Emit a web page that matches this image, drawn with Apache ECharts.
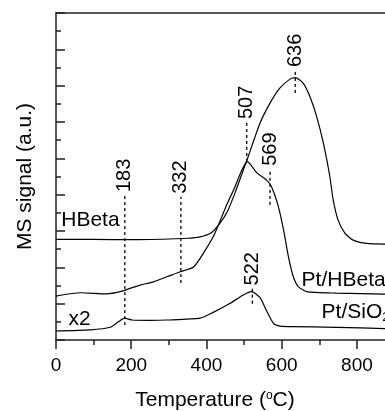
<!DOCTYPE html>
<html>
<head>
<meta charset="utf-8">
<script src="https://cdn.jsdelivr.net/npm/echarts@6/dist/echarts.min.js"></script>
<style>
  html, body { margin: 0; padding: 0; background: #fff; }
  #chart { width: 385px; height: 411px; }
</style>
</head>
<body>
<div id="chart"></div>
<script>
// TPD profiles (temperature in degC, signal in a.u.)
const hbetaT = [0, 100, 200, 300, 350, 383, 410, 432, 454, 476, 498, 511, 542, 569, 595, 622, 636, 657, 675, 693, 711, 728, 737, 750, 768, 790, 826, 880]
const hbetaY = [2.77, 2.77, 2.76, 2.78, 2.80, 2.84, 2.93, 3.16, 3.50, 4.05, 4.68, 5.05, 5.96, 6.52, 6.93, 7.18, 7.22, 7.07, 6.70, 6.15, 5.41, 4.50, 3.85, 3.30, 2.94, 2.75, 2.66, 2.64]

const ptHbetaT = [0, 65, 135, 171, 197, 224, 259, 295, 330, 365, 392, 418, 432, 454, 476, 495, 509, 534, 560, 573, 590, 605, 618, 631, 644, 667, 746, 880]
const ptHbetaY = [1.21, 1.30, 1.27, 1.33, 1.42, 1.51, 1.60, 1.74, 1.88, 2.00, 2.39, 2.84, 3.17, 3.72, 4.22, 4.70, 4.91, 4.60, 4.40, 4.22, 3.72, 3.03, 2.29, 1.74, 1.47, 1.33, 1.29, 1.26]

const ptSio2T = [0, 91, 144, 166, 182, 202, 250, 295, 383, 418, 463, 498, 520, 542, 560, 578, 596, 622, 746, 880]
const ptSio2Y = [0.25, 0.28, 0.35, 0.50, 0.60, 0.55, 0.54, 0.55, 0.60, 0.76, 1.01, 1.24, 1.33, 1.17, 0.80, 0.46, 0.38, 0.37, 0.35, 0.31]

// peak markers: temperature, bottom and top of the dotted guide
const markerT = [183, 332, 507, 569, 636, 522]
const markerLow = [0.41, 1.57, 4.90, 3.72, 6.80, 1.00]
const markerHigh = [3.99, 3.94, 6.00, 4.71, 7.43, 1.42]

const FONT = 'Liberation Sans, Arial, sans-serif'
const toPairs = (xs, ys) => xs.map((x, i) => [x, ys[i]])

const curve = (name, xs, ys, label, coord) => ({
  name: name,
  type: 'line',
  data: toPairs(xs, ys),
  smooth: 0.2,
  showSymbol: false,
  silent: true,
  lineStyle: { color: '#000', width: 1.2 },
  markPoint: {
    symbol: 'circle',
    symbolSize: 0,
    silent: true,
    data: [{ coord: coord }],
    label: {
      show: true,
      formatter: label,
      position: 'right',
      distance: 0,
      color: '#000',
      fontFamily: FONT,
      fontSize: 21,
      rich: {
        sub: { fontSize: 13, fontFamily: FONT, color: '#000', padding: [10, 0, 0, 0] }
      }
    }
  }
})

const markerSeries = markerT.map((t, i) => ({
  type: 'line',
  data: [
    [t, markerLow[i]],
    {
      value: [t, markerHigh[i]],
      label: {
        show: true,
        formatter: String(t),
        position: 'top',
        distance: 3,
        rotate: 90,
        align: 'left',
        verticalAlign: 'middle',
        color: '#000',
        fontFamily: FONT,
        fontSize: 20
      }
    }
  ],
  symbol: 'circle',
  symbolSize: 0,
  silent: true,
  lineStyle: { color: '#000', width: 1.3, type: [3, 3] }
}))

const chart = echarts.init(document.getElementById('chart'), null, { renderer: 'canvas' })

const option = {
  animation: false,
  backgroundColor: '#fff',
  grid: { left: 56, top: 13, width: 331, height: 327, containLabel: false, outerBoundsMode: 'none' },
  xAxis: [
    {
      type: 'value',
      min: 0,
      max: 880,
      interval: 200,
      name: 'Temperature ({sup|o}C)',
      nameLocation: 'middle',
      nameGap: 50,
      nameTextStyle: {
        fontFamily: FONT,
        fontSize: 21,
        color: '#000',
        padding: [0, 13, 0, 0],
        rich: {
          sup: { fontSize: 12, fontFamily: FONT, color: '#000', padding: [0, 0, 9, 0] }
        }
      },
      axisLine: { lineStyle: { color: '#222', width: 1.5 } },
      axisTick: { inside: false, length: 9, lineStyle: { color: '#222', width: 1.5 } },
      minorTick: { show: true, splitNumber: 2, length: 5, lineStyle: { color: '#222', width: 1.5 } },
      axisLabel: {
        fontFamily: FONT, fontSize: 19, color: '#000', margin: 16,
        formatter: v => (v % 200 === 0 ? String(v) : '')
      },
      splitLine: { show: false }
    },
    {
      type: 'value',
      position: 'top',
      min: 0,
      max: 880,
      axisLine: { show: true, lineStyle: { color: '#222', width: 1.5 } },
      axisTick: { show: false },
      axisLabel: { show: false },
      splitLine: { show: false }
    }
  ],
  yAxis: {
    type: 'value',
    min: 0,
    max: 9,
    interval: 1,
    name: 'MS signal (a.u.)',
    nameLocation: 'middle',
    nameRotate: 90,
    nameGap: 20,
    nameTextStyle: { fontFamily: FONT, fontSize: 21, color: '#000' },
    axisLine: { show: true, lineStyle: { color: '#222', width: 1.5 } },
    axisTick: { inside: true, length: 9, lineStyle: { color: '#222', width: 1.5 } },
    minorTick: { show: true, splitNumber: 2, length: 5, lineStyle: { color: '#222', width: 1.5 } },
    axisLabel: { show: false },
    splitLine: { show: false }
  },
  series: [
    curve('HBeta', hbetaT, hbetaY, 'HBeta', [14, 3.29]),
    curve('Pt/HBeta', ptHbetaT, ptHbetaY, 'Pt/HBeta', [653, 1.65]),
    curve('Pt/SiO2', ptSio2T, ptSio2Y, 'Pt/SiO{sub|2}', [706, 0.76]),
    {
      type: 'line',
      data: [],
      markPoint: {
        symbol: 'circle',
        symbolSize: 0,
        silent: true,
        data: [{ coord: [33, 0.58] }],
        label: {
          show: true, formatter: 'x2', position: 'right', distance: 0,
          color: '#000', fontFamily: FONT, fontSize: 21
        }
      }
    }
  ].concat(markerSeries)
}

chart.setOption(option)
</script>
</body>
</html>
